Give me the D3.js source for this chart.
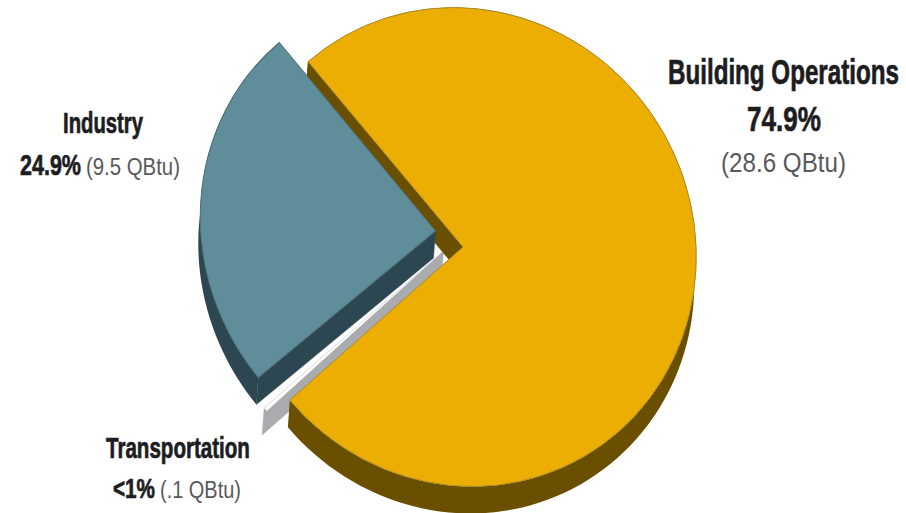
<!DOCTYPE html>
<html>
<head>
<meta charset="utf-8">
<script src="https://cdn.jsdelivr.net/npm/d3@7/dist/d3.min.js"></script>
<style>
html,body{margin:0;padding:0;background:#fff;}
svg{display:block;}
</style>
</head>
<body>
<svg id="chart" width="906" height="513"></svg>
<script>
// Energy use by sector
const categories = ["Building Operations", "Transportation", "Industry"];
const qbtu = [28.6, 0.1, 9.5];
const percentLabels = ["74.9%", "<1%", "24.9%"];
const qbtuLabels = ["(28.6 QBtu)", "(.1 QBtu)", "(9.5 QBtu)"];
const faceColors = ["#EDAE03", "#FFFFFF", "#5F8D99"];
const wallColors = ["#6A4F00", "#A9ABAE", "#2C4751"];
const edgeColors = ["#A88A2E", "#FFFFFF", "#4C6F79"];

const width = 906, height = 513;
const deg = Math.PI / 180;

// Each slice sits on a tilted ellipse that stands in for the pie's perspective
const radii = [240, 245, 240];
const tilts = [
  {a: 0.972, b: 0.040, c: 0, d: 0.997},
  {a: 0.972, b: 0.020, c: 0, d: 0.997},
  {a: 0.980, b: 0.060, c: 0, d: 0.997}
];
const extrude = {x: -2, y: 27};
// Exploded centre of each slice
const centres = [
  {x: 463, y: 247},
  {x: 443.5, y: 251},
  {x: 435.5, y: 231}
];

const slices = d3.pie().sort(null).value(d => d)
  .startAngle(-41.6 * deg).endAngle(318.4 * deg)(qbtu);

const project = (i, r, t) => {
  const c = centres[i], m = tilts[i];
  const u = r * Math.sin(t), v = -r * Math.cos(t);
  return [c.x + m.a * u + m.c * v, c.y + m.b * u + m.d * v];
};

const svg = d3.select("#chart");
const wallPath = d3.area().x0(d => d[0]).y0(d => d[1])
  .x1(d => d[0] + extrude.x).y1(d => d[1] + extrude.y);

function arcWall(i) {
  const s = slices[i];
  const n = 120;
  const pts = d3.range(n + 1).map(k =>
    project(i, radii[i], s.startAngle + (s.endAngle - s.startAngle) * k / n));
  svg.append("path").attr("d", wallPath(pts)).attr("fill", wallColors[i]);
}
function cutWall(i, angle) {
  const pts = [0, 1].map(k => project(i, radii[i] * k, angle));
  svg.append("path").attr("d", wallPath(pts))
    .attr("fill", wallColors[i]).attr("stroke", wallColors[i]).attr("stroke-width", 0.5);
}
function face(i) {
  const c = centres[i], m = tilts[i];
  svg.append("path")
    .attr("d", d3.arc().innerRadius(0).outerRadius(radii[i])(slices[i]))
    .attr("transform", `matrix(${m.a},${m.b},${m.c},${m.d},${c.x},${c.y})`)
    .attr("fill", faceColors[i])
    .attr("stroke", edgeColors[i])
    .attr("stroke-width", i === 1 ? 0 : 1)
    .attr("stroke-linejoin", "round");
}

// Back to front: thin slice, large slice, then the exploded one
cutWall(1, slices[1].endAngle);
face(1);
cutWall(0, slices[0].startAngle);
arcWall(0);
face(0);
arcWall(2);
cutWall(2, slices[2].startAngle);
face(2);

// Labels, narrowed horizontally to their set widths
const bold = "'Liberation Sans Narrow','Liberation Sans',sans-serif";
const plain = "'Liberation Sans',sans-serif";
const textSpecs = [
  {t: categories[0], x: 668, y: 84, w: 231, s: 35, b: 1},
  {t: percentLabels[0], x: 747, y: 131, w: 74, s: 36, b: 1},
  {t: qbtuLabels[0], x: 721, y: 172, w: 125, s: 28, b: 0},
  {t: categories[2], x: 63, y: 133, w: 80, s: 30, b: 1},
  {t: percentLabels[2], x: 20, y: 175, w: 61, s: 30, b: 1},
  {t: qbtuLabels[2], x: 86, y: 175, w: 94, s: 24, b: 0},
  {t: categories[1], x: 106, y: 458, w: 144, s: 29, b: 1},
  {t: percentLabels[1], x: 113, y: 498, w: 42, s: 27, b: 1},
  {t: qbtuLabels[1], x: 160, y: 498, w: 81, s: 24, b: 0}
];
svg.selectAll("text.label").data(textSpecs).join("text")
  .attr("class", "label")
  .attr("font-family", d => d.b ? bold : plain)
  .attr("font-weight", d => d.b ? 700 : 400)
  .attr("font-size", d => d.s)
  .attr("fill", d => d.b ? "#1d1d1f" : "#58595b")
  .attr("stroke", d => d.b ? "#1d1d1f" : "none")
  .attr("stroke-width", 0.7)
  .text(d => d.t)
  .attr("transform", function (d) {
    return `translate(${d.x},${d.y}) scale(${d.w / this.getComputedTextLength()},1)`;
  });
</script>
</body>
</html>
